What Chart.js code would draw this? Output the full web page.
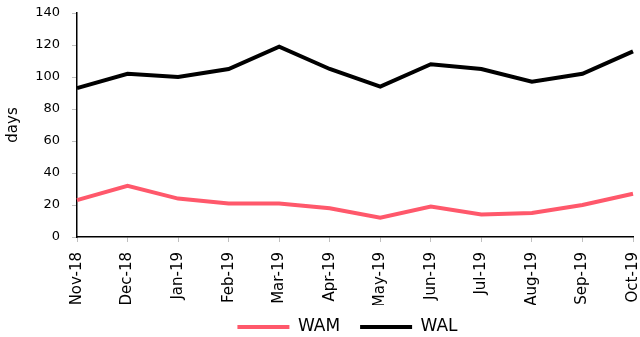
<!DOCTYPE html>
<html>
<head>
<meta charset="utf-8">
<script src="https://cdn.jsdelivr.net/npm/chart.js@4"></script>
<style>
  html, body { margin: 0; padding: 0; background: #fff; }
  #wrap { width: 640px; height: 337px; }
</style>
</head>
<body>
<div id="wrap"><canvas id="chart" width="640" height="337"></canvas></div>
<script>
const months = ['Nov-18', 'Dec-18', 'Jan-19', 'Feb-19', 'Mar-19', 'Apr-19',
                'May-19', 'Jun-19', 'Jul-19', 'Aug-19', 'Sep-19', 'Oct-19'];
const wam = [23, 32, 24, 21, 21, 18, 12, 19, 14, 15, 20, 27];
const wal = [93, 102, 100, 105, 119, 105, 94, 108, 105, 97, 102, 116];
const yTicks = [0, 20, 40, 60, 80, 100, 120, 140];

const family = 'DejaVu Sans, Verdana, sans-serif';

// nudge the legend row up and right of where Chart.js puts it
const legendShift = {
    id: 'legendShift',
    afterLayout(chart) {
        const lg = chart.legend;
        lg.left += 31; lg.right += 31;
        lg.top -= 6.5; lg.bottom -= 6.5;
    }
};

new Chart(document.getElementById('chart').getContext('2d'), {
    type: 'line',
    data: {
        labels: months,
        datasets: [{
            label: 'WAM',
            data: wam,
            borderColor: '#FF586B',
            backgroundColor: '#FF586B',
            borderWidth: 4,
            pointRadius: 0,
            tension: 0
        }, {
            label: 'WAL',
            data: wal,
            borderColor: '#000000',
            backgroundColor: '#000000',
            borderWidth: 4,
            pointRadius: 0,
            tension: 0
        }]
    },
    plugins: [legendShift],
    options: {
        responsive: false,
        animation: false,
        layout: { padding: { top: 13, right: 7, left: 0, bottom: -15 } },
        plugins: {
            legend: {
                position: 'bottom',
                labels: {
                    color: '#000',
                    font: { family: family, size: 17 },
                    usePointStyle: true,
                    pointStyle: 'line',
                    pointStyleWidth: 52,
                    padding: 20
                }
            },
            tooltip: { enabled: false }
        },
        scales: {
            x: {
                offset: false,
                afterFit: axis => {
                    axis.height = 68;
                    axis.paddingRight = 0;
                    axis.paddingLeft = 0;
                },
                grid: {
                    drawOnChartArea: false,
                    drawTicks: true,
                    tickLength: 5,
                    color: '#BFBFBF'
                },
                border: { color: '#000', width: 1.5 },
                ticks: {
                    color: '#000',
                    font: { family: family, size: 15 },
                    maxRotation: 90,
                    minRotation: 90,
                    autoSkip: false,
                    padding: 10
                }
            },
            y: {
                min: 0,
                max: 140,
                afterBuildTicks: axis => { axis.ticks = yTicks.map(v => ({ value: v })); },
                afterFit: axis => {
                    axis.width = 77;
                    axis.paddingTop = 0;
                    axis.paddingBottom = 0;
                },
                grid: {
                    drawOnChartArea: false,
                    drawTicks: true,
                    tickLength: 5,
                    color: '#BFBFBF'
                },
                border: { color: '#000', width: 1.5 },
                ticks: { color: '#000', font: { family: family, size: 13 }, padding: 12 },
                title: {
                    display: true,
                    text: 'days',
                    color: '#000',
                    font: { family: family, size: 15 },
                    padding: { top: 4, bottom: 0 }
                }
            }
        }
    }
});
</script>
</body>
</html>
